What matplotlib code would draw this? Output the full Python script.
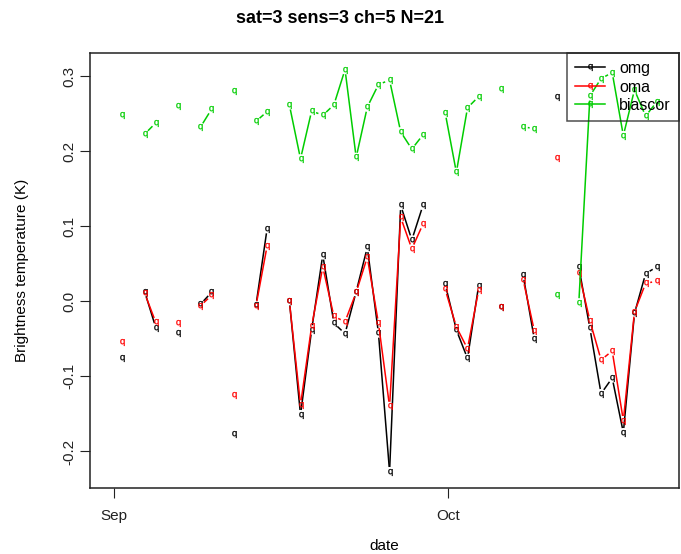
import numpy as np
import pandas as pd
import matplotlib
matplotlib.use('Agg')
import matplotlib.pyplot as plt
import matplotlib.dates as mdates
from matplotlib.lines import Line2D

# observation days (2010), same days for all three series
dates = ['09-01', '09-03', '09-04', '09-06', '09-08', '09-09', '09-11', '09-13',
         '09-14', '09-16', '09-17', '09-18', '09-19', '09-20', '09-21', '09-22',
         '09-23', '09-24', '09-25', '09-26', '09-27', '09-28', '09-30', '10-01',
         '10-02', '10-03', '10-05', '10-07', '10-08', '10-10', '10-12', '10-13',
         '10-14', '10-15', '10-16', '10-17', '10-18', '10-19']
omg = [-0.076, 0.013, -0.035, -0.042, -0.004, 0.012, -0.177, -0.005,
       0.097, 0.001, -0.151, -0.038, 0.062, -0.029, -0.043, 0.013,
       0.072, -0.042, -0.227, 0.128, 0.082, 0.128, 0.023, -0.038,
       -0.076, 0.021, -0.007, 0.035, -0.050, 0.273, 0.046, -0.036,
       -0.123, -0.102, -0.175, -0.016, 0.037, 0.046]
oma = [-0.054, 0.011, -0.028, -0.029, -0.006, 0.008, -0.125, -0.006,
       0.074, 0.000, -0.138, -0.033, 0.046, -0.020, -0.027, 0.012,
       0.059, -0.029, -0.140, 0.112, 0.070, 0.103, 0.016, -0.034,
       -0.063, 0.015, -0.008, 0.029, -0.039, 0.191, 0.038, -0.026,
       -0.078, -0.066, -0.159, -0.014, 0.024, 0.027]
biascor = [0.249, 0.223, 0.238, 0.261, 0.232, 0.256, 0.281, 0.240,
           0.253, 0.262, 0.190, 0.254, 0.248, 0.262, 0.309, 0.192,
           0.259, 0.289, 0.295, 0.226, 0.203, 0.222, 0.251, 0.172,
           0.258, 0.273, 0.283, 0.233, 0.230, 0.009, -0.002, 0.274,
           0.297, 0.305, 0.221, 0.282, 0.247, 0.266]

plt.rcParams['font.family'] = ['Liberation Sans', 'DejaVu Sans']
QMARK = r'$\mathsf{q}$'

t = pd.to_datetime(['2010-' + d for d in dates]) + pd.Timedelta(hours=18)
x = mdates.date2num(t)
sep1 = mdates.date2num(pd.Timestamp('2010-09-01'))
oct1 = mdates.date2num(pd.Timestamp('2010-10-01'))

fig = plt.figure(figsize=(6.81, 5.54), dpi=100)
ax = fig.add_axes([90/681, 1-488/554, 589/681, 435/554])
ax.set_xlim(sep1 - 2.16, sep1 + 50.75)
ax.set_ylim(-0.2487, 0.3311)


def plot_b(ax, x, y, col, gap=5.5):
    # like R type="b": lines only between consecutive days, cut short round the points
    pts = ax.transData.transform(np.column_stack([x, y]))
    inv = ax.transData.inverted()
    for i in range(len(x) - 1):
        if round(x[i+1] - x[i]) != 1:
            continue
        d = pts[i+1] - pts[i]
        L = np.hypot(d[0], d[1])
        if L <= 2*gap:
            continue
        u = d / L
        a = inv.transform(pts[i] + u*gap)
        b = inv.transform(pts[i+1] - u*gap)
        ax.plot([a[0], b[0]], [a[1], b[1]], color=col, lw=1.1)
    ax.plot(x, y, ls='none', marker=QMARK, color=col, ms=5, mew=0.2)


cols = {'omg': 'black', 'oma': '#ff0000', 'biascor': '#00cd00'}
plot_b(ax, x, omg, cols['omg'])
plot_b(ax, x, oma, cols['oma'])
plot_b(ax, x, biascor, cols['biascor'])

ax.set_xticks([sep1, oct1])
ax.set_xticklabels(['Sep', 'Oct'])
ax.set_yticks([-0.2, -0.1, 0.0, 0.1, 0.2, 0.3])
ax.set_yticklabels(['-0.2', '-0.1', '0.0', '0.1', '0.2', '0.3'], rotation=90, va='center')
ax.tick_params(direction='out', length=7, width=0.8, labelsize=11, colors='#222222')
ax.tick_params(axis='x', pad=8)
ax.tick_params(axis='y', pad=3)
for s in ax.spines.values():
    s.set_linewidth(1.1)
    s.set_color('#222222')

ax.set_xlabel('date', fontsize=11, labelpad=12)
ax.set_ylabel('Brightness temperature (K)', fontsize=11, labelpad=24)
fig.suptitle('sat=3 sens=3 ch=5 N=21', fontsize=13, fontweight='bold', y=0.982)

handles = [Line2D([], [], color=cols[k], lw=1.1, marker=QMARK, ms=5, mew=0.2) for k in cols]
leg = ax.legend(handles, list(cols), loc='upper right', borderaxespad=0, fancybox=False,
                facecolor='none', edgecolor='#222222', fontsize=11.5, handlelength=1.9,
                handletextpad=0.9, labelspacing=0.22, borderpad=0.5)
leg.get_frame().set_linewidth(1.1)

fig.savefig('out.png', dpi=100)
